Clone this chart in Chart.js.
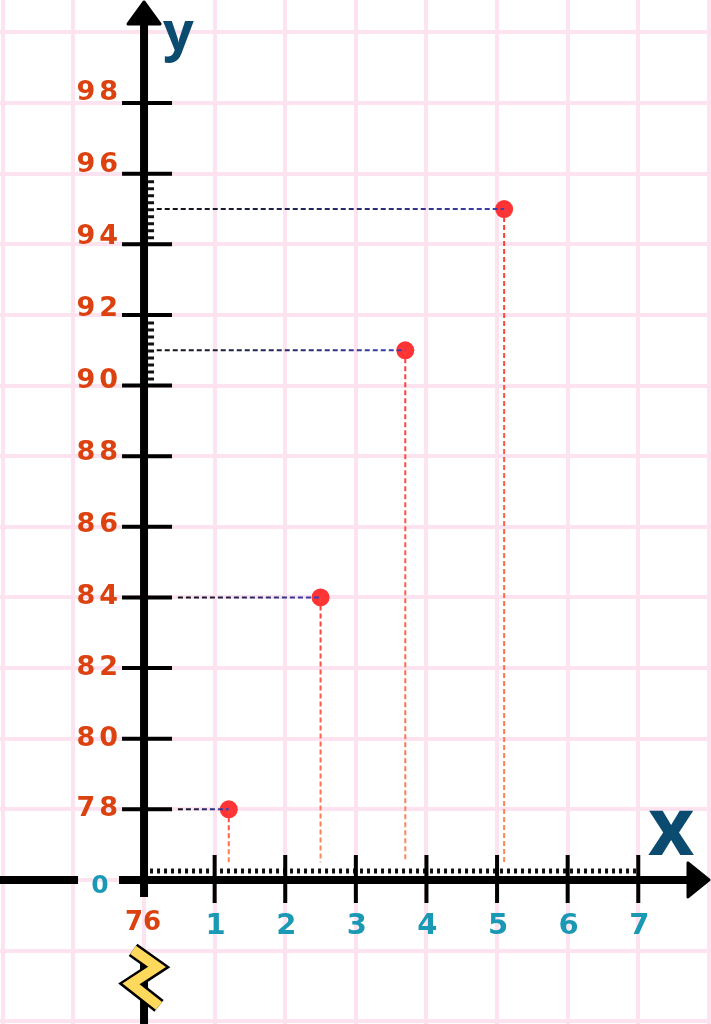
<!DOCTYPE html>
<html lang="en">
<head>
    <meta charset="UTF-8">
    <title>Scatter on a broken axis</title>
    <script src="https://cdn.jsdelivr.net/npm/chart.js"></script>
    <style>
        html, body {
            margin: 0;
            padding: 0;
            background: #ffffff;
        }
        #chart {
            display: block;
        }
    </style>
</head>
<body>
    <canvas id="chart" width="711" height="1024"></canvas>

    <script>
        // data
        const xValues = [1.2, 2.5, 3.7, 5.1];
        const yValues = [78, 84, 91, 95];
        const xTickValues = [1, 2, 3, 4, 5, 6, 7];
        const yTickValues = [78, 80, 82, 84, 86, 88, 90, 92, 94, 96, 98];
        const breakValue = 76;      // y value sitting on the x axis
        const xAxisZeroLabel = '0';

        const RED = '#ff3434';
        const ORANGE_TXT = '#db420f';
        const TEAL = '#1a99b5';
        const NAVY = '#0c4b70';
        const DIGITS = '"DejaVu Sans", sans-serif';
        const LETTERS = '"Open Sans", sans-serif';

        // where the guide lines stop
        const guideBottom = 76.5;
        function guideStart(y) { return y % 2 === 0 ? 0.48 : 0.18; }

        function hGradient(c) {
            const ch = c.chart;
            if (!ch.chartArea || !c.dataset) return '#2b2f80';
            const xs = ch.scales.x;
            const d = c.dataset.data;
            const g = ch.ctx.createLinearGradient(xs.getPixelForValue(d[0].x), 0, xs.getPixelForValue(d[1].x), 0);
            g.addColorStop(0, '#111111');
            g.addColorStop(1, '#3b40b4');
            return g;
        }

        function vGradient(c) {
            const ch = c.chart;
            if (!ch.chartArea || !c.dataset) return '#ff6a45';
            const ys = ch.scales.y;
            const d = c.dataset.data;
            const g = ch.ctx.createLinearGradient(0, ys.getPixelForValue(d[0].y), 0, ys.getPixelForValue(d[1].y));
            g.addColorStop(0, '#ff3b36');
            g.addColorStop(1, '#ff8a5c');
            return g;
        }

        const datasets = [];
        xValues.forEach((x, i) => {
            const y = yValues[i];
            datasets.push({
                type: 'line',
                data: [{ x: guideStart(y), y: y }, { x: x, y: y }],
                borderColor: hGradient,
                borderWidth: 2,
                borderDash: [5, 3],
                pointRadius: 0,
                fill: false
            });
            datasets.push({
                type: 'line',
                data: [{ x: x, y: y }, { x: x, y: guideBottom }],
                borderColor: vGradient,
                borderWidth: 2,
                borderDash: [5, 3],
                pointRadius: 0,
                fill: false
            });
        });
        datasets.push({
            type: 'scatter',
            data: xValues.map((x, i) => ({ x: x, y: yValues[i] })),
            backgroundColor: RED,
            borderWidth: 0,
            pointRadius: 9,
            pointHoverRadius: 9
        });

        // black axes, ticks, arrows, break marks and all the text
        const axesPlugin = {
            id: 'axesPlugin',
            beforeDatasetsDraw(chart) {
                const ctx = chart.ctx;
                const xs = chart.scales.x;
                const ys = chart.scales.y;
                const ox = xs.getPixelForValue(0);
                const oy = ys.getPixelForValue(breakValue);
                const W = chart.width;
                const H = chart.height;

                ctx.save();

                // dotted line just above the x axis
                ctx.strokeStyle = '#111';
                ctx.lineWidth = 5;
                ctx.setLineDash([3, 4]);
                ctx.beginPath();
                ctx.moveTo(ox + 6, oy - 9);
                ctx.lineTo(xs.getPixelForValue(7), oy - 9);
                ctx.stroke();

                // dotted stretches on the y axis around odd values
                ctx.lineWidth = 6;
                ctx.setLineDash([3, 4]);
                yValues.forEach(v => {
                    if (v % 2 === 0) return;
                    ctx.beginPath();
                    ctx.moveTo(ox + 7, ys.getPixelForValue(v - 1) - 5);
                    ctx.lineTo(ox + 7, ys.getPixelForValue(v + 1) + 5);
                    ctx.stroke();
                });
                ctx.setLineDash([]);

                // y axis
                ctx.strokeStyle = '#000';
                ctx.lineWidth = 8;
                ctx.beginPath();
                ctx.moveTo(ox, 20);
                ctx.lineTo(ox, oy + 17);
                ctx.moveTo(ox, oy + 72);
                ctx.lineTo(ox, H);
                ctx.stroke();

                // x axis
                ctx.beginPath();
                ctx.moveTo(0, oy);
                ctx.lineTo(ox - 66, oy);
                ctx.moveTo(ox - 25, oy);
                ctx.lineTo(W - 20, oy);
                ctx.stroke();

                // arrow heads
                ctx.fillStyle = '#000';
                ctx.lineJoin = 'round';
                ctx.lineWidth = 3;
                ctx.beginPath();
                ctx.moveTo(ox, 2);
                ctx.lineTo(ox + 16, 24);
                ctx.lineTo(ox - 16, 24);
                ctx.closePath();
                ctx.fill();
                ctx.stroke();
                ctx.beginPath();
                ctx.moveTo(W - 2, oy);
                ctx.lineTo(W - 23, oy - 17);
                ctx.lineTo(W - 23, oy + 17);
                ctx.closePath();
                ctx.fill();
                ctx.stroke();

                // tick marks
                ctx.lineWidth = 4;
                ctx.beginPath();
                yTickValues.forEach(v => {
                    const py = ys.getPixelForValue(v);
                    ctx.moveTo(ox - 22, py);
                    ctx.lineTo(ox + 28, py);
                });
                xTickValues.forEach(v => {
                    const px = xs.getPixelForValue(v);
                    ctx.moveTo(px, oy - 25);
                    ctx.lineTo(px, oy + 23);
                });
                ctx.stroke();

                // zigzag break mark
                const zz = [[ox - 11, oy + 70], [ox + 13, oy + 87], [ox - 13, oy + 104], [ox + 15, oy + 126]];
                ctx.lineJoin = 'miter';
                ctx.lineCap = 'butt';
                ctx.beginPath();
                zz.forEach((p, i) => i ? ctx.lineTo(p[0], p[1]) : ctx.moveTo(p[0], p[1]));
                ctx.strokeStyle = '#000';
                ctx.lineWidth = 15;
                ctx.stroke();
                ctx.strokeStyle = '#ffd95c';
                ctx.lineWidth = 10;
                ctx.stroke();

                // y tick labels
                ctx.fillStyle = ORANGE_TXT;
                ctx.font = 'bold 27px ' + DIGITS;
                ctx.textAlign = 'right';
                ctx.textBaseline = 'middle';
                ctx.letterSpacing = '4px';
                yTickValues.forEach(v => {
                    const py = ys.getPixelForValue(v) - Math.max(0, v - 84) * 0.75;
                    ctx.fillText(String(v), ox - 22, py);
                });
                ctx.letterSpacing = '0px';

                // break value under the origin
                ctx.textAlign = 'center';
                ctx.font = 'bold 26px ' + DIGITS;
                ctx.fillText(String(breakValue), ox - 1, oy + 43);

                // x tick labels
                ctx.fillStyle = TEAL;
                ctx.font = 'bold 29px ' + DIGITS;
                xTickValues.forEach(v => {
                    ctx.fillText(String(v), xs.getPixelForValue(v) + 1, oy + 47);
                });
                ctx.font = 'bold 25px ' + DIGITS;
                ctx.fillText(xAxisZeroLabel, ox - 44, oy + 7);

                // axis names
                ctx.fillStyle = NAVY;
                ctx.textAlign = 'left';
                ctx.textBaseline = 'alphabetic';
                ctx.font = 'bold 54px ' + LETTERS;
                ctx.fillText('y', ox + 19, 50);
                ctx.font = 'bold 80px ' + LETTERS;
                ctx.fillText('x', W - 63, oy - 25);

                ctx.restore();
            }
        };

        new Chart(document.getElementById('chart').getContext('2d'), {
            type: 'scatter',
            data: { datasets: datasets },
            options: {
                responsive: false,
                animation: false,
                devicePixelRatio: 1,
                layout: { padding: 0, autoPadding: false },
                plugins: {
                    legend: { display: false },
                    tooltip: { enabled: false }
                },
                scales: {
                    x: {
                        type: 'linear',
                        min: -2.04,
                        max: 8.03,
                        border: { display: false },
                        grid: { color: '#fde2ef', lineWidth: 4, drawTicks: false },
                        ticks: { display: false, stepSize: 1, includeBounds: false }
                    },
                    y: {
                        type: 'linear',
                        min: 71.92,
                        max: 100.92,
                        border: { display: false },
                        grid: { color: '#fde2ef', lineWidth: 4, drawTicks: false },
                        ticks: { display: false, stepSize: 2, includeBounds: false }
                    }
                }
            },
            plugins: [axesPlugin]
        });
    </script>
</body>
</html>
